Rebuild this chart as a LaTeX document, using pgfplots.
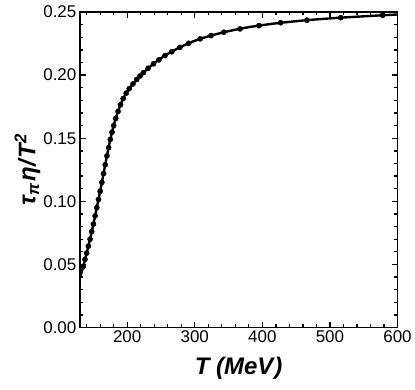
\documentclass[border=0pt]{standalone}
\usepackage{fontspec}
\setmainfont{Liberation Sans}
\usepackage{pgfplots}
\pgfplotsset{compat=1.18}

\pgfplotstableread{
T y
130 0.039
135 0.0485
140 0.059
145 0.070
150 0.082
155 0.095
160 0.108
165 0.122
170 0.136
175 0.149
180 0.160
185 0.169
190 0.1765
195 0.1825
200 0.1870
207 0.1920
214 0.1965
224 0.2020
239 0.2090
256 0.2155
278 0.2220
300 0.2272
324 0.2313
350 0.2348
380 0.2380
420 0.2410
466 0.2435
516 0.2455
578 0.2474
600 0.2480
}\curvedata

\pgfplotstableread{
T y
135 0.0485
137.5 0.054
140 0.059
142.5 0.0645
145 0.070
147.5 0.076
150 0.082
152.5 0.0885
155 0.095
157.5 0.1015
160 0.108
162.5 0.115
165 0.122
167.5 0.129
170 0.136
172.5 0.1425
175 0.149
177.5 0.1548
180 0.160
183 0.1657
186.5 0.1712
190 0.1765
194 0.1814
198.5 0.1857
203 0.1893
208.5 0.1930
214 0.1965
219 0.1993
224 0.2020
231 0.2054
239 0.2090
247 0.2121
256 0.2155
266 0.2185
278 0.2220
291 0.2252
308 0.2287
324 0.2313
343 0.2340
367 0.2366
395 0.2392
427 0.2415
466 0.2435
516 0.2455
578 0.2474
}\dotdata

\begin{document}
\begin{tikzpicture}
\begin{axis}[
scale only axis,
width=318pt,
height=316pt,
xmin=130, xmax=600,
ymin=0, ymax=0.25,
xtick={200,300,400,500,600},
minor xtick={140,160,180,220,240,260,280,320,340,360,380,420,440,460,480,520,540,560,580},
ytick={0,0.05,0.1,0.15,0.2,0.25},
minor ytick={0.01,0.02,0.03,0.04,0.06,0.07,0.08,0.09,0.11,0.12,0.13,0.14,0.16,0.17,0.18,0.19,0.21,0.22,0.23,0.24},
yticklabel style={/pgf/number format/.cd, fixed, fixed zerofill, precision=2},
/pgf/number format/assume math mode=true,
tick align=inside,
major tick length=6pt,
minor tick length=3.5pt,
every tick/.style={black, line width=1.3pt},
axis line style={line width=1.6pt},
tick label style={font=\fontsize{17}{19}\selectfont},
xlabel={\bfseries\itshape T (MeV\kern1pt)},
ylabel={\bfseries\itshape τ\textsubscript{π}\kern1.5pt η\kern1pt/\kern1pt T\textsuperscript{2}},
label style={font=\fontsize{24}{27}\selectfont},
xlabel style={at={(axis description cs:0.5,-0.13)}, anchor=center},
ylabel style={at={(axis description cs:-0.165,0.5)}, anchor=center},
]
\addplot[black, line width=2.4pt, smooth] table[x=T, y=y] {\curvedata};
\addplot[only marks, mark=*, mark size=2.6pt, black] table[x=T, y=y] {\dotdata};
\end{axis}
\path (current axis.south west) ++(-80pt,-62pt) coordinate (bbA);
\path (current axis.north east) ++(17pt,12pt) coordinate (bbB);
\path (bbA) rectangle (bbB);
\end{tikzpicture}
\end{document}
